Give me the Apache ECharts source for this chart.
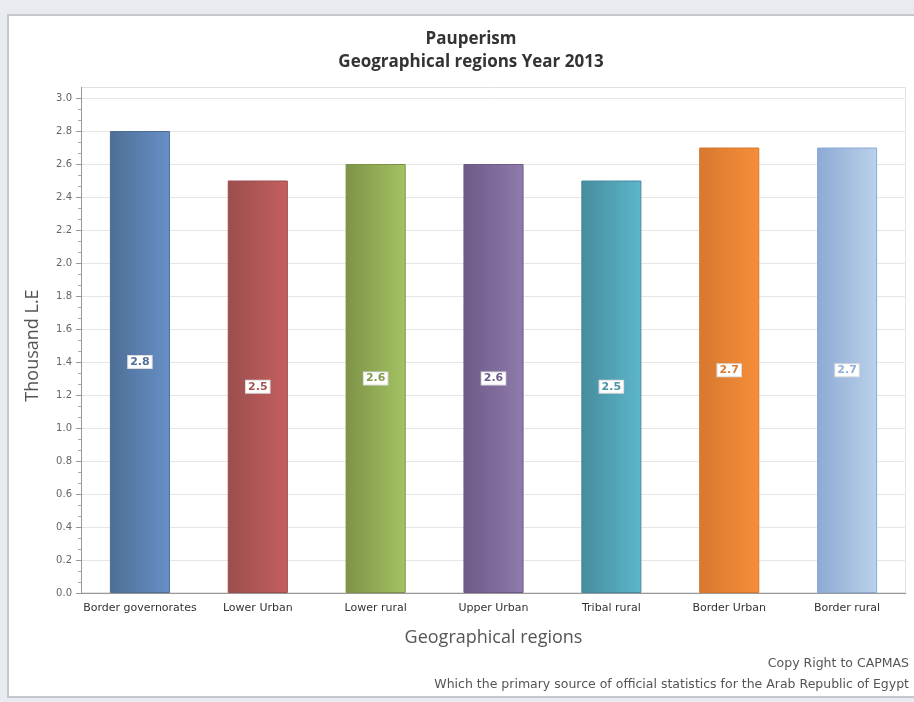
<!DOCTYPE html>
<html>
<head>
<meta charset="utf-8">
<script src="https://cdn.jsdelivr.net/npm/echarts@6/dist/echarts.min.js"></script>
<style>
  html, body { margin: 0; padding: 0; background: #e8ecf0; }
  #chart { width: 914px; height: 702px; }
</style>
</head>
<body>
<div id="chart"></div>
<script>
// Average poverty line by geographical region, 2013 (thousand L.E)
const regions = ['Border governorates', 'Lower Urban', 'Lower rural', 'Upper Urban', 'Tribal rural', 'Border Urban', 'Border rural'];
const values = [2.8, 2.5, 2.6, 2.6, 2.5, 2.7, 2.7];
const yTicks = [0, 0.2, 0.4, 0.6, 0.8, 1.0, 1.2, 1.4, 1.6, 1.8, 2.0, 2.2, 2.4, 2.6, 2.8, 3.0];

// bar gradients: [left shade, right shade, label text colour]
const palette = [
  ['#4e6e96', '#6790c6', '#4f6f98'],
  ['#9b4e4e', '#c45f5e', '#a55252'],
  ['#7d9247', '#a4c363', '#819a4a'],
  ['#6d5a86', '#8f7bad', '#6f5c8a'],
  ['#468c9e', '#5db6cc', '#4a92a5'],
  ['#d77830', '#f68e38', '#dc7b31'],
  ['#8daad5', '#bad1ea', '#95b1d9']
];

const chart = echarts.init(document.getElementById('chart'), null, { renderer: 'canvas' });

chart.setOption({
  backgroundColor: '#e8ecf0',
  animation: false,
  graphic: [
    {
      type: 'rect', z: -10, silent: true,
      shape: { x: 8, y: 15, width: 910, height: 682 },
      style: { fill: '#ffffff', stroke: '#c4c8cc', lineWidth: 2 }
    },
    {
      // plot frame, which reaches a little above the top tick
      type: 'rect', z: -5, silent: true,
      shape: { x: 81.5, y: 87.5, width: 824, height: 505 },
      style: { fill: 'none', stroke: '#e2e2e2', lineWidth: 1 }
    },
    {
      type: 'line', z: 5, silent: true,
      shape: { x1: 81.5, y1: 87, x2: 81.5, y2: 98 },
      style: { stroke: '#999', lineWidth: 1 }
    },
    {
      type: 'text', right: 5, top: 657,
      style: { text: 'Copy Right to CAPMAS', fill: '#555', font: '12.5px "DejaVu Sans"', align: 'right' }
    },
    {
      type: 'text', right: 5, top: 678,
      style: { text: 'Which the primary source of official statistics for the Arab Republic of Egypt', fill: '#555', font: '12.5px "DejaVu Sans"', align: 'right' }
    }
  ],
  title: {
    text: 'Pauperism\nGeographical regions Year 2013',
    left: 466, top: 23, textAlign: 'center',
    textStyle: { fontFamily: 'Open Sans', fontWeight: 'bold', fontSize: 17, color: '#333', lineHeight: 23 }
  },
  grid: {
    left: 81, right: 8, top: 98, bottom: 109
  },
  xAxis: {
    type: 'category',
    data: regions,
    name: 'Geographical regions',
    nameLocation: 'middle',
    nameGap: 36,
    nameTextStyle: { fontFamily: 'Open Sans', fontSize: 18, color: '#555' },
    axisLine: { lineStyle: { color: '#999' } },
    axisTick: { alignWithLabel: true, length: 4, lineStyle: { color: '#999' } },
    axisLabel: { fontFamily: 'DejaVu Sans', fontSize: 11, color: '#333', margin: 10, interval: 0 }
  },
  yAxis: {
    type: 'value',
    min: 0, max: 3, interval: 0.2,
    name: 'Thousand L.E',
    nameLocation: 'middle',
    nameGap: 39,
    nameTextStyle: { fontFamily: 'Open Sans', fontSize: 18, color: '#555' },
    axisLine: { show: true, lineStyle: { color: '#999' } },
    axisTick: { show: true, length: 5, lineStyle: { color: '#999' } },
    minorTick: { show: true, splitNumber: 3, length: 3, lineStyle: { color: '#aaa' } },
    axisLabel: {
      fontFamily: 'DejaVu Sans', fontSize: 10, color: '#666', margin: 9,
      formatter: v => (yTicks.some(t => Math.abs(t - v) < 1e-9) ? v.toFixed(1) : '')
    },
    splitLine: { lineStyle: { color: '#e6e6e6' } }
  },
  series: [{
    type: 'bar',
    barWidth: '51%',
    data: values.map((v, i) => ({
      value: v,
      itemStyle: {
        color: new echarts.graphic.LinearGradient(0, 0, 1, 0, [
          { offset: 0, color: palette[i][0] },
          { offset: 1, color: palette[i][1] }
        ]),
        borderColor: palette[i][0],
        borderWidth: 1
      },
      label: { color: palette[i][2] }
    })),
    label: {
      show: true,
      position: 'inside',
      formatter: p => p.value.toFixed(1),
      fontFamily: 'DejaVu Sans',
      fontSize: 11,
      fontWeight: 'bold',
      backgroundColor: '#ffffff',
      borderColor: '#dddddd',
      borderWidth: 1,
      padding: [1, 2, 0, 2]
    }
  }]
});
</script>
</body>
</html>
